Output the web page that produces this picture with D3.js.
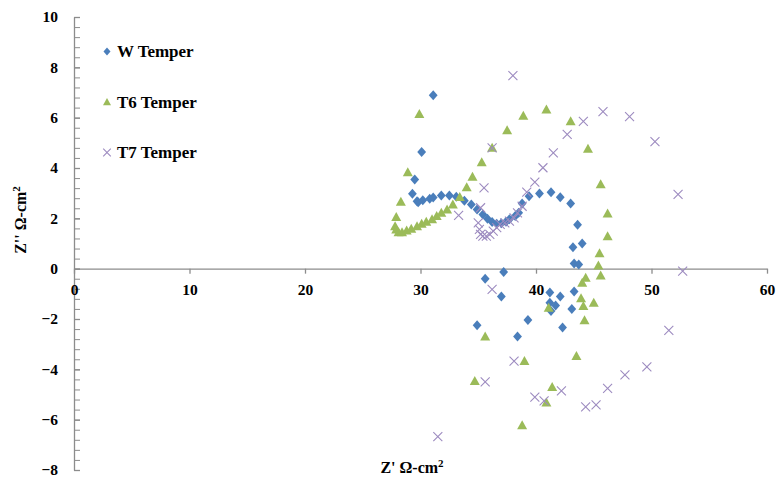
<!DOCTYPE html>
<html><head><meta charset="utf-8">
<script src="https://cdn.jsdelivr.net/npm/d3@7"></script>
<style>
html,body{margin:0;padding:0;background:#fff;}
svg text{font-family:"Liberation Serif","Times New Roman",serif;font-weight:bold;fill:#000;}
</style></head>
<body>
<svg id="chart" width="776" height="480"></svg>
<script>
// ---- data (Z' , Z'') ----
const seriesNames = ["W Temper", "T6 Temper", "T7 Temper"];
const wTemper = [[31.1,6.89],[30.1,4.64],[29.5,3.54],[29.3,2.98],[29.7,2.68],[29.8,2.64],[30.2,2.72],[30.8,2.78],[31.1,2.83],[31.8,2.91],[32.5,2.91],[33.1,2.86],[33.8,2.70],[34.4,2.55],[34.9,2.35],[35.4,2.15],[35.8,1.98],[36.2,1.85],[36.6,1.78],[37.0,1.80],[37.4,1.86],[37.7,1.96],[38.2,2.09],[38.5,2.22],[38.8,2.59],[39.4,2.88],[40.3,2.99],[41.3,3.04],[42.1,2.84],[43.0,2.59],[43.6,1.75],[44.0,1.00],[43.2,0.85],[43.3,0.21],[43.7,0.17],[37.2,-0.13],[35.6,-0.40],[37.0,-1.11],[41.2,-0.95],[42.1,-1.11],[43.3,-0.91],[41.2,-1.35],[41.7,-1.46],[41.3,-1.68],[43.1,-1.60],[39.3,-2.04],[34.9,-2.25],[42.3,-2.34],[38.4,-2.70]];
const t6Temper = [[29.9,6.15],[28.9,3.83],[28.3,2.66],[27.9,2.05],[27.8,1.69],[27.9,1.56],[28.1,1.45],[28.4,1.45],[28.8,1.52],[29.2,1.59],[29.7,1.69],[30.1,1.78],[30.5,1.86],[31.0,1.96],[31.4,2.09],[31.8,2.22],[32.3,2.35],[32.8,2.55],[33.4,2.85],[34.0,3.24],[34.5,3.65],[35.3,4.23],[36.2,4.80],[37.5,5.50],[38.9,6.08],[40.9,6.32],[43.0,5.86],[44.5,4.76],[45.6,3.35],[46.2,2.19],[46.2,1.29],[45.5,0.61],[45.4,0.13],[45.6,-0.27],[44.3,-0.36],[44.0,-0.56],[43.9,-1.18],[44.1,-1.48],[45.0,-1.35],[44.2,-2.05],[41.1,-1.55],[35.6,-2.70],[39.0,-3.67],[43.5,-3.47],[34.7,-4.46],[41.4,-4.70],[40.9,-5.32],[38.8,-6.22]];
const t7Temper = [[38.0,7.67],[36.2,4.80],[35.5,3.21],[33.3,2.12],[35.2,2.42],[35.0,1.82],[35.1,1.56],[35.2,1.36],[35.4,1.29],[35.7,1.29],[36.0,1.36],[36.3,1.49],[36.6,1.63],[36.9,1.76],[37.3,1.82],[37.7,1.89],[38.1,2.02],[38.4,2.22],[38.8,2.48],[39.2,3.04],[39.9,3.44],[40.6,4.01],[41.5,4.60],[42.7,5.34],[44.1,5.85],[45.8,6.24],[48.1,6.04],[50.3,5.05],[52.3,2.95],[52.7,-0.10],[36.2,-0.82],[51.5,-2.45],[38.1,-3.67],[49.6,-3.90],[35.6,-4.50],[47.7,-4.22],[46.2,-4.76],[42.2,-4.86],[39.9,-5.10],[40.7,-5.25],[45.2,-5.41],[44.3,-5.49],[31.5,-6.67]];
const xTicks = [0,10,20,30,40,50,60];
const yTicks = [-8,-6,-4,-2,0,2,4,6,8,10];

// ---- chart ----
const svg = d3.select("#chart");
const x = d3.scaleLinear().domain([0,60]).range([74,767]);
const y = d3.scaleLinear().domain([-8,10]).range([470,17]);
const axisColor = "#8c8c8c";

// y minor ticks
const yMinor = d3.range(-8, 10.001, 0.4).map(v => +v.toFixed(1));
svg.append("g").attr("transform","translate(74,0)")
  .call(d3.axisLeft(y).tickValues(yMinor).tickFormat("").tickSizeInner(-6).tickSizeOuter(0))
  .call(g => g.selectAll("line,path").attr("stroke",axisColor));
// y axis
const gy = svg.append("g").attr("transform","translate(74,0)")
  .call(d3.axisLeft(y).tickValues(yTicks).tickFormat(d3.format("d")).tickSizeInner(-6).tickSizeOuter(0).tickPadding(16));
gy.selectAll("line,path").attr("stroke",axisColor).attr("stroke-width",1.3);
gy.selectAll("text").attr("font-size",15.5).attr("font-family","Liberation Serif").attr("font-weight","bold").attr("fill","#000");

// x axis at y=0
const gx = svg.append("g").attr("transform",`translate(0,${y(0)})`)
  .call(d3.axisBottom(x).tickValues(xTicks).tickFormat(d3.format("d")).tickSizeInner(5).tickSizeOuter(0).tickPadding(10));
gx.selectAll("line,path").attr("stroke",axisColor).attr("stroke-width",1.3);
gx.selectAll("text").attr("font-size",15.5).attr("font-family","Liberation Serif").attr("font-weight","bold").attr("fill","#000");

// axis titles
const xt = svg.append("text").attr("x",412).attr("y",473).attr("text-anchor","middle").attr("font-size",16);
xt.append("tspan").text("Z' Ω-cm");
xt.append("tspan").attr("font-size",11).attr("dy",-6).text("2");
const yt = svg.append("text").attr("transform","translate(26,220) rotate(-90)").attr("text-anchor","middle").attr("font-size",16);
yt.append("tspan").text("Z'' Ω-cm");
yt.append("tspan").attr("font-size",11).attr("dy",-6).text("2");

// markers
const colors = ["#4a7ebb","#9bbb59","#9d8bc0"];
const diamond = "M0,-5L4.4,0L0,5L-4.4,0Z";
const triangle = "M0,-5L5,4L-5,4Z";
const cross = "M-4.5,-4.5L4.5,4.5M-4.5,4.5L4.5,-4.5";

function drawSeries(data, path, color, isCross){
  const g = svg.append("g");
  g.selectAll("path").data(data).join("path")
    .attr("d", path)
    .attr("transform", d => `translate(${x(d[0])},${y(d[1])})`)
    .attr("fill", isCross ? "none" : color)
    .attr("stroke", isCross ? color : "none")
    .attr("stroke-width", isCross ? 1.1 : 0);
}
drawSeries(wTemper, diamond, colors[0], false);
drawSeries(t6Temper, triangle, colors[1], false);
drawSeries(t7Temper, cross, colors[2], true);

// legend
const legendMarks = ["M0,-4L3.5,0L0,4L-3.5,0Z", "M0,-4L4,3.2L-4,3.2Z", "M-3.8,-3.8L3.8,3.8M-3.8,3.8L3.8,-3.8"];
seriesNames.forEach((name,i) => {
  const ly = 51.5 + i*50.5;
  svg.append("path").attr("d", legendMarks[i]).attr("transform",`translate(107,${ly})`)
    .attr("fill", i===2 ? "none" : colors[i]).attr("stroke", i===2 ? colors[i] : "none").attr("stroke-width",1.1);
  svg.append("text").attr("x",117).attr("y",ly+5.8).attr("font-size",17).text(name);
});
</script>
</body></html>
